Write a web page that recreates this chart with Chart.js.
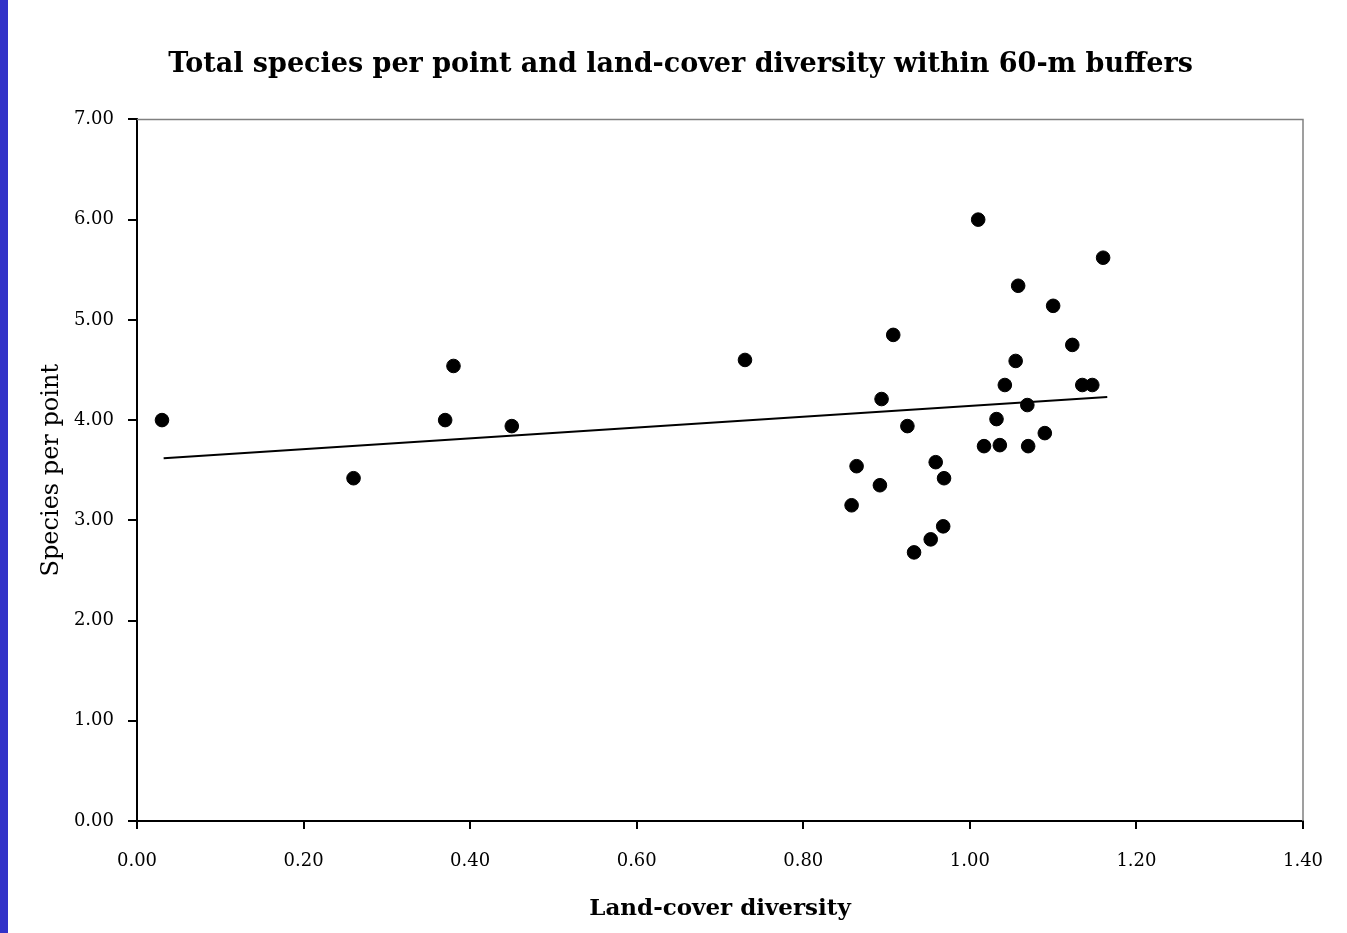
<!DOCTYPE html>
<html>
<head>
<meta charset="utf-8">
<script src="https://cdn.jsdelivr.net/npm/chart.js@4.4.1/dist/chart.umd.min.js"></script>
<style>
  html, body { margin: 0; padding: 0; background: #ffffff; }
  #wrap { position: relative; width: 1347px; height: 933px; overflow: hidden; background: #ffffff; }
  #bar { position: absolute; left: 0; top: 0; width: 8px; height: 933px; background: #3232c8; z-index: 2; }
  canvas { position: absolute; left: 0; top: 0; }
</style>
</head>
<body>
<div id="wrap">
  <div id="bar"></div>
  <canvas id="c" width="1347" height="933"></canvas>
</div>
<script>
// Land-cover diversity (x) and species per point (y)
const diversity = [0.03, 0.26, 0.37, 0.38, 0.45, 0.73, 1.01, 1.16, 1.058, 1.10, 0.908, 1.055, 1.123, 1.042, 1.135, 1.147, 0.894, 0.925, 1.032, 1.069, 1.090, 1.017, 1.036, 1.070, 0.864, 0.959, 0.969, 0.892, 0.858, 0.968, 0.953, 0.933];
const species   = [4.00, 3.42, 4.00, 4.54, 3.94, 4.60, 6.00, 5.62, 5.34, 5.14, 4.85, 4.59, 4.75, 4.35, 4.35, 4.35, 4.21, 3.94, 4.01, 4.15, 3.87, 3.74, 3.75, 3.74, 3.54, 3.58, 3.42, 3.35, 3.15, 2.94, 2.81, 2.68];
// Linear trend line end points
const trendX = [0.032, 1.165];
const trendY = [3.62, 4.23];
// Axis tick values
const xTicks = [0.00, 0.20, 0.40, 0.60, 0.80, 1.00, 1.20, 1.40];
const yTicks = [0.00, 1.00, 2.00, 3.00, 4.00, 5.00, 6.00, 7.00];

const points = diversity.map((x, i) => ({ x: x, y: species[i] }));
const trend = trendX.map((x, i) => ({ x: x, y: trendY[i] }));

const serif = "'DejaVu Serif', 'Liberation Serif', serif";

// Shift the title block so it is centred like the original slide title
const titleShift = {
  id: 'titleShift',
  afterLayout(chart) {
    const t = chart.titleBlock;
    if (t) { t.left += 29; t.right += 29; }
  }
};

const frame = {
  id: 'frame',
  afterDraw(chart) {
    const { ctx, chartArea: a } = chart;
    ctx.save();
    ctx.strokeStyle = '#808080';
    ctx.lineWidth = 1.5;
    ctx.beginPath();
    ctx.moveTo(a.left, a.top);
    ctx.lineTo(a.right, a.top);
    ctx.lineTo(a.right, a.bottom);
    ctx.stroke();
    ctx.restore();
  }
};

new Chart(document.getElementById('c'), {
  type: 'scatter',
  data: {
    datasets: [
      {
        label: 'Species per point',
        data: points,
        backgroundColor: '#000000',
        borderColor: '#000000',
        pointRadius: 6.8,
        pointHoverRadius: 6.8,
        pointStyle: 'circle'
      },
      {
        label: 'Trend',
        type: 'line',
        data: trend,
        borderColor: '#000000',
        borderWidth: 2,
        pointRadius: 0,
        fill: false
      }
    ]
  },
  options: {
    responsive: false,
    animation: false,
    events: [],
    layout: { padding: { left: 0, right: 44, top: 0, bottom: 0 } },
    plugins: {
      legend: { display: false },
      tooltip: { enabled: false },
      title: {
        display: true,
        text: 'Total species per point and land-cover diversity within 60-m buffers',
        color: '#000000',
        font: { family: serif, size: 27, weight: 'bold' },
        padding: { top: 49, bottom: 38 }
      }
    },
    scales: {
      x: {
        type: 'linear',
        min: 0,
        max: 1.4,
        afterBuildTicks(scale) { scale.ticks = xTicks.map(v => ({ value: v })); },
        afterFit(scale) { scale.height = 112; },
        ticks: {
          color: '#000000',
          font: { family: serif, size: 18 },
          padding: 22,
          maxRotation: 0,
          callback: v => Number(v).toFixed(2)
        },
        grid: { drawOnChartArea: false, drawTicks: true, tickLength: 8, color: '#000000', lineWidth: 2 },
        border: { display: true, color: '#000000', width: 2 },
        title: {
          display: true,
          text: 'Land-cover diversity',
          color: '#000000',
          font: { family: serif, size: 23, weight: 'bold' },
          padding: { top: 0, bottom: 10 }
        }
      },
      y: {
        type: 'linear',
        min: 0,
        max: 7,
        afterBuildTicks(scale) { scale.ticks = yTicks.map(v => ({ value: v })); },
        afterFit(scale) { scale.width = 137; },
        ticks: {
          color: '#000000',
          font: { family: serif, size: 18 },
          padding: 14,
          callback: v => Number(v).toFixed(2)
        },
        grid: { drawOnChartArea: false, drawTicks: true, tickLength: 9, color: '#000000', lineWidth: 2 },
        border: { display: true, color: '#000000', width: 2 },
        title: {
          display: true,
          text: 'Species per point',
          color: '#000000',
          font: { family: serif, size: 24 },
          padding: { top: 37, bottom: 0 }
        }
      }
    }
  },
  plugins: [titleShift, frame]
});
</script>
</body>
</html>
